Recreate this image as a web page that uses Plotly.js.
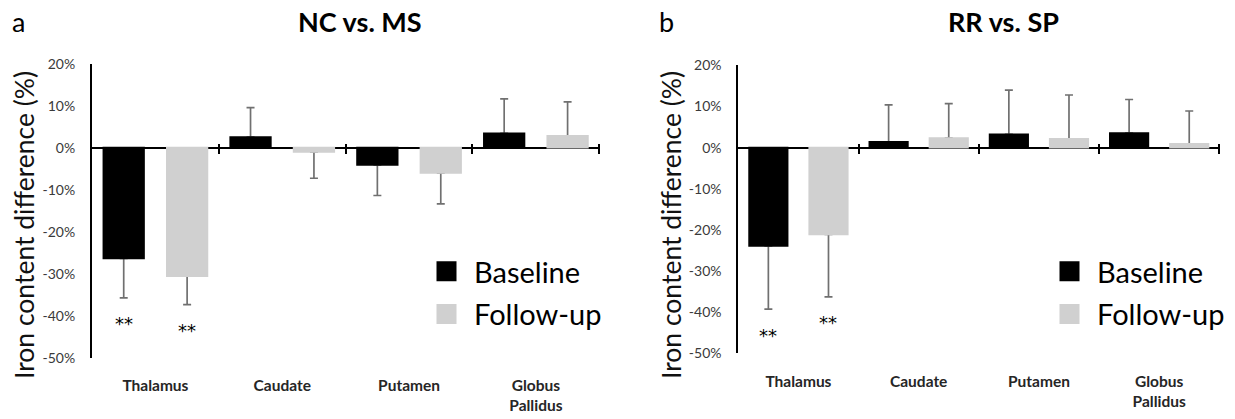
<!DOCTYPE html>
<html><head><meta charset="utf-8">
<script src="https://cdn.plot.ly/plotly-3.0.1.min.js"></script>
<style>html,body{margin:0;padding:0;background:#fff}</style>
</head><body><div id="chart" style="width:1235px;height:419px"></div>
<script>
// ---------- data ----------
const categories = ['Thalamus', 'Caudate', 'Putamen', 'Globus<br>Pallidus'];
const seriesNames = ['Baseline', 'Follow-up'];
const seriesColors = ['#000000', '#d0d0d0'];

// panel a: NC vs. MS (percent)
const ncmsBaseline    = [-26.4, 2.5, -4.1, 3.4];
const ncmsBaselineErr = [9.4, 7.0, 7.3, 8.2];
const ncmsFollowup    = [-30.6, -1.0, -6.0, 2.8];
const ncmsFollowupErr = [6.8, 6.3, 7.4, 8.1];
const ncmsBaselineSig = ['**', '', '', ''];
const ncmsFollowupSig = ['**', '', '', ''];

// panel b: RR vs. SP (percent)
const rrspBaseline    = [-23.9, 1.4, 3.2, 3.5];
const rrspBaselineErr = [15.4, 9.0, 10.8, 8.2];
const rrspFollowup    = [-21.1, 2.3, 2.1, 0.9];
const rrspFollowupErr = [15.2, 8.4, 10.7, 8.0];
const rrspBaselineSig = ['**', '', '', ''];
const rrspFollowupSig = ['**', '', '', ''];

const yTickVals = [20, 10, 0, -10, -20, -30, -40, -50];
const yTickText = ['20%', '10%', '0%', '-10%', '-20%', '-30%', '-40%', '-50%'];
const panelTitles = ['NC vs. MS', 'RR vs. SP'];
const panelLetters = ['a', 'b'];
const yTitle = 'Iron content difference (%)';

// ---------- build ----------
const W = 1235, H = 419;
const FONT = 'Lato, "Open Sans", sans-serif';
const yMin = -50, yMax = 20;
const idx = categories.map((_, i) => i);
const boundaries = categories.map((_, i) => i + 0.5);

const panels = [
  {xs: '', ys: '', tickAx: '3', series: [[ncmsBaseline, ncmsBaselineErr, ncmsBaselineSig], [ncmsFollowup, ncmsFollowupErr, ncmsFollowupSig]],
   xdom: [92 / W, 599.3 / W], ydomPx: [63.6, 357.6], legend: 'legend', legX: 419, titleX: 360, letterX: 18, yTitleX: 24},
  {xs: '2', ys: '2', tickAx: '4', series: [[rrspBaseline, rrspBaselineErr, rrspBaselineSig], [rrspFollowup, rrspFollowupErr, rrspFollowupSig]],
   xdom: [738.3 / W, 1219.3 / W], ydomPx: [65.4, 353.1], legend: 'legend2', legX: 1042, titleX: 1003, letterX: 667, yTitleX: 671}
];

const data = [];
const annotations = [];
const layout = {
  width: W, height: H,
  margin: {l: 0, r: 0, t: 0, b: 0},
  paper_bgcolor: '#ffffff', plot_bgcolor: 'rgba(0,0,0,0)',
  barmode: 'group', bargap: 0, bargroupgap: 0.36,
  font: {family: FONT, color: '#000'},
  annotations: annotations,
  showlegend: true
};

panels.forEach((p, pi) => {
  const xa = 'x' + p.xs, ya = 'y' + p.ys;
  const ydom = [1 - p.ydomPx[1] / H, 1 - p.ydomPx[0] / H];
  const zeroFrac = ydom[0] + (0 - yMin) / (yMax - yMin) * (ydom[1] - ydom[0]);

  p.series.forEach((s, si) => {
    const vals = s[0], errs = s[1], sig = s[2];
    // bars carrying the one-sided error bars
    data.push({
      type: 'bar', x: idx, y: vals, xaxis: xa, yaxis: ya, offsetgroup: 's' + si,
      name: seriesNames[si], showlegend: false, hoverinfo: 'skip',
      marker: {color: seriesColors[si], line: {width: 0}},
      error_y: {
        type: 'data', symmetric: false,
        array: vals.map((v, i) => v >= 0 ? errs[i] : 0),
        arrayminus: vals.map((v, i) => v < 0 ? errs[i] : 0),
        color: '#707070', thickness: 1.7, width: 4
      }
    });
    sig.forEach((t, i) => {
      if (!t) return;
      const end = vals[i] < 0 ? vals[i] - errs[i] : vals[i] + errs[i];
      annotations.push({
        xref: xa, yref: ya, x: i + (si === 0 ? -0.25 : 0.25), y: end,
        text: t, showarrow: false, yanchor: 'middle', yshift: -26,
        font: {family: '"DejaVu Sans", sans-serif', size: 18, color: '#000'}
      });
    });
  });
  // same bars drawn again on top so the inner error-bar cap is hidden
  p.series.forEach((s, si) => {
    data.push({
      type: 'bar', x: idx, y: s[0], xaxis: xa, yaxis: ya, offsetgroup: 's' + si,
      name: seriesNames[si], showlegend: false, hoverinfo: 'skip',
      marker: {color: seriesColors[si], line: {width: 1.7, color: seriesColors[si]}}
    });
  });
  // legend entries
  p.series.forEach((s, si) => {
    data.push({
      type: 'scatter', mode: 'markers', x: [null], y: [null], xaxis: xa, yaxis: ya,
      name: seriesNames[si], legend: p.legend, legendgroup: 'g' + pi + si, hoverinfo: 'skip',
      marker: {symbol: 'square', size: 16, color: seriesColors[si], line: {width: 4, color: seriesColors[si]}}
    });
  });
  // empty trace for the tick-mark axis
  data.push({type: 'scatter', x: [], y: [], xaxis: 'x' + p.tickAx, yaxis: ya, showlegend: false, hoverinfo: 'skip'});

  layout['xaxis' + p.xs] = {
    domain: p.xdom, range: [-0.5, categories.length - 0.5], anchor: ya,
    tickvals: idx, ticktext: categories, ticks: '', showline: false, showgrid: false, zeroline: false,
    ticklabelstandoff: 17,
    tickfont: {family: FONT, size: 15.5, color: '#262626', weight: 'bold'}
  };
  layout['xaxis' + p.tickAx] = {
    overlaying: xa, anchor: 'free', position: zeroFrac + 5 / H,
    range: [-0.5, categories.length - 0.5],
    tickvals: boundaries, ticks: 'outside', ticklen: 10, tickwidth: 2, tickcolor: '#000',
    showticklabels: false, showline: false, showgrid: false, zeroline: false
  };
  layout['yaxis' + p.ys] = {
    domain: ydom, range: [yMin, yMax], anchor: xa,
    tickvals: yTickVals, ticktext: yTickText, ticks: '',
    showline: true, linecolor: '#000', linewidth: 2,
    showgrid: false, zeroline: true, zerolinecolor: '#000', zerolinewidth: 2,
    ticklabelstandoff: 12,
    tickfont: {family: FONT, size: 14, color: '#3a3a3a'}
  };
  layout[p.legend] = {
    x: p.legX / W, y: 1 - 246 / H, xanchor: 'left', yanchor: 'top',
    font: {family: FONT, size: 29, color: '#000'},
    itemwidth: 45, tracegroupgap: 2, bgcolor: 'rgba(0,0,0,0)', borderwidth: 0
  };
  annotations.push({
    xref: 'paper', yref: 'paper', x: p.yTitleX / W, y: 1 - 225 / H, xanchor: 'center', yanchor: 'middle',
    text: yTitle, textangle: -90, showarrow: false, font: {family: FONT, size: 26.5, color: '#111'}
  });
  annotations.push({
    xref: 'paper', yref: 'paper', x: p.titleX / W, y: 1 - 22 / H, xanchor: 'center', yanchor: 'middle',
    text: panelTitles[pi], showarrow: false, font: {family: FONT, size: 27, color: '#000', weight: 'bold'}
  });
  annotations.push({
    xref: 'paper', yref: 'paper', x: p.letterX / W, y: 1 - 22 / H, xanchor: 'center', yanchor: 'middle',
    text: panelLetters[pi], showarrow: false, font: {family: FONT, size: 27, color: '#000'}
  });
});

Plotly.newPlot('chart', data, layout, {displayModeBar: false, staticPlot: true});
</script>
</body></html>
